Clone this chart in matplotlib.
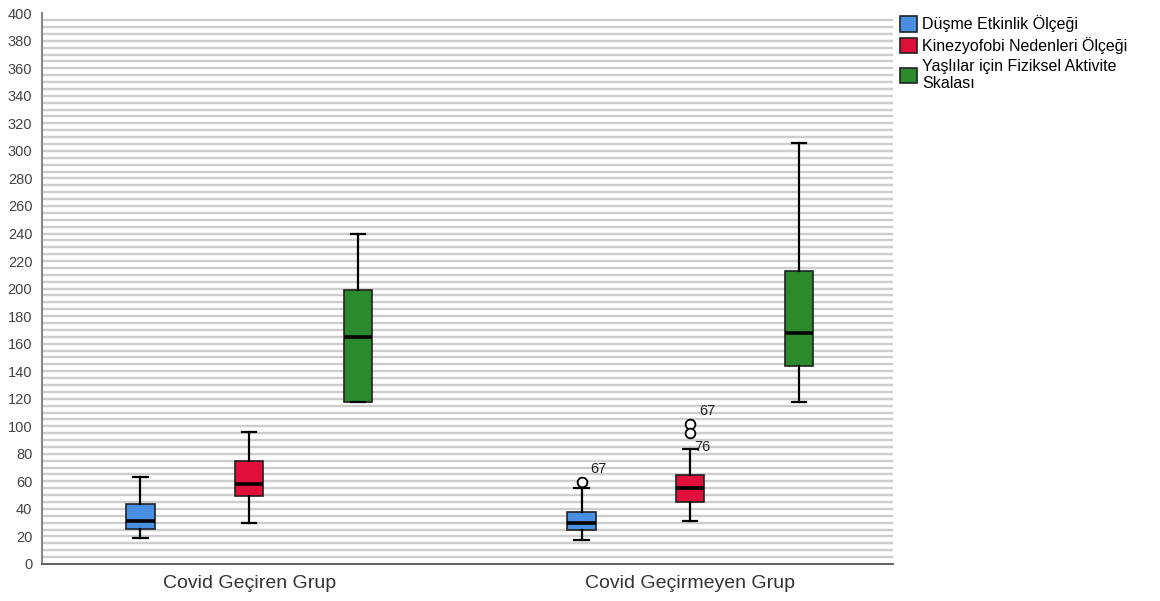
import matplotlib
matplotlib.use("Agg")
import matplotlib.pyplot as plt
from matplotlib.patches import Patch

plt.rcParams["font.family"] = ["Liberation Sans", "DejaVu Sans"]

groups = ["Covid Geçiren Grup", "Covid Geçirmeyen Grup"]
scales = ["Düşme Etkinlik Ölçeği", "Kinezyofobi Nedenleri Ölçeği",
          "Yaşlılar için Fiziksel Aktivite\nSkalası"]
colors = ["#4A90E2", "#E0103A", "#2B8A2B"]

# five-number summaries per group: [whislo, q1, median, q3, whishi]
covid_yes = [
    [19, 25.5, 31, 43.5, 63],
    [30, 49.5, 58, 75, 96],
    [118, 118, 165, 199, 240],
]
covid_no = [
    [17.5, 25, 30, 38, 55],
    [31, 45, 55, 64.5, 83.5],
    [117.5, 144, 167.5, 212.5, 305.5],
]
# outlier values per group and scale
outliers_yes = [[], [], []]
outliers_no = [[59.5], [101.5, 95], []]

group_centers = [2.86, 8.95]
offsets = [-1.5, 0.0, 1.5]

fig = plt.figure(figsize=(11.6, 6.01), dpi=100)
ax = fig.add_axes([0.0362, 0.0616, 0.7336, 0.9164])

# striped background lines
for v in range(5, 400, 5):
    ax.axhline(v, color="#cdcdcd", lw=1.7, zorder=0)

for center, summ, outs in zip(group_centers, [covid_yes, covid_no],
                              [outliers_yes, outliers_no]):
    for k in range(3):
        wl, q1, med, q3, wh = summ[k]
        stats = [dict(whislo=wl, q1=q1, med=med, q3=q3, whishi=wh,
                      fliers=outs[k])]
        ax.bxp(stats, positions=[center + offsets[k]], widths=0.39,
               patch_artist=True, showfliers=True,
               boxprops=dict(facecolor=colors[k], edgecolor="#222222", lw=1.2),
               medianprops=dict(color="black", lw=2.6),
               whiskerprops=dict(color="black", lw=1.6),
               capprops=dict(color="black", lw=1.6),
               capwidths=0.2,
               flierprops=dict(marker="o", markerfacecolor="white",
                               markeredgecolor="black", markersize=7, mew=1.3))

# outlier case labels
ax.text(group_centers[1] + offsets[0] + 0.12, 66, "67", fontsize=10.5, color="#222222")
ax.text(group_centers[1] + offsets[1] + 0.12, 108, "67", fontsize=10.5, color="#222222")
ax.text(group_centers[1] + offsets[1] + 0.05, 82, "76", fontsize=10.5, color="#222222")

ax.set_xlim(0, 11.75)
ax.set_ylim(0, 400)
ax.set_yticks(range(0, 401, 20))
ax.set_xticks(group_centers)
ax.set_xticklabels(groups, fontsize=14, color="#333333")
ax.tick_params(axis="y", labelsize=10.5, colors="#444444", length=0, pad=7)
ax.tick_params(axis="x", length=0, pad=8)
ax.spines["top"].set_visible(False)
ax.spines["right"].set_visible(False)
ax.spines["left"].set_color("#888888")
ax.spines["left"].set_linewidth(1.5)
ax.spines["bottom"].set_color("#555555")
ax.spines["bottom"].set_linewidth(1.3)

handles = [Patch(facecolor=c, edgecolor="#222222", lw=1.2) for c in colors]
fig.legend(handles, scales, loc="upper left", bbox_to_anchor=(0.770, 0.985),
           frameon=False, fontsize=11.5, handlelength=1.1, handleheight=1.1,
           handletextpad=0.3, labelspacing=0.3, borderaxespad=0)

fig.savefig("out.png", dpi=100, facecolor="white")
